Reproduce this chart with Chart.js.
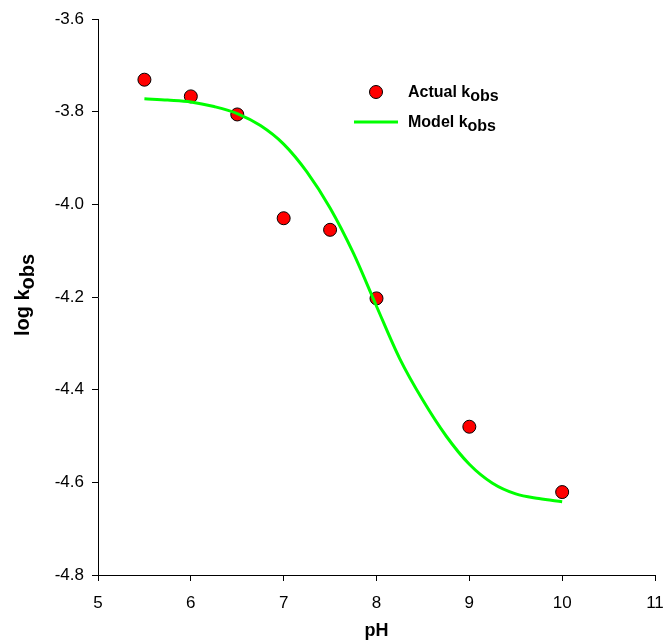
<!DOCTYPE html>
<html><head><meta charset="utf-8">
<script src="https://cdn.jsdelivr.net/npm/chart.js@4"></script>
<style>html,body{margin:0;padding:0;background:#fff}#wrap{width:665px;height:644px;position:relative}</style>
</head><body><div id="wrap"><canvas id="c" width="665" height="644"></canvas></div>
<script>
// Data
const actualPH   = [5.5, 6.0, 6.5, 7.0, 7.5, 8.0, 9.0, 10.0];
const actualLogK = [-3.731, -3.767, -3.806, -4.030, -4.055, -4.203, -4.480, -4.621];
const modelPH    = [5.5, 5.75, 6.0, 6.25, 6.5, 6.75, 7.0, 7.25, 7.5, 7.75, 8.0, 8.25, 8.5, 8.75, 9.0, 9.25, 9.5, 9.75, 10.0];
const modelLogK  = [-3.772, -3.775, -3.779, -3.789, -3.804, -3.830, -3.870, -3.930, -4.008, -4.105, -4.220, -4.333, -4.423, -4.500, -4.561, -4.602, -4.625, -4.635, -4.642];
const xTickVals  = [5, 6, 7, 8, 9, 10, 11];
const yTickVals  = [-4.8, -4.6, -4.4, -4.2, -4.0, -3.8, -3.6];
const xTitle = 'pH';
const yTitleMain = 'log k', yTitleSub = 'obs';
const legendItems = [
  {main: 'Actual k', sub: 'obs', kind: 'point'},
  {main: 'Model k', sub: 'obs', kind: 'line'}
];

const FONT = "'Liberation Sans', Arial, Helvetica, sans-serif";

const overlay = {
  id: 'overlay',
  afterDraw(chart) {
    const ctx = chart.ctx;
    const ca = chart.chartArea;
    ctx.save();
    ctx.fillStyle = '#000';
    // Y-axis title with subscript
    ctx.font = 'bold 20px ' + FONT;
    const wMain = ctx.measureText(yTitleMain).width;
    const wSub = ctx.measureText(yTitleSub).width;
    const total = wMain + wSub;
    ctx.save();
    ctx.translate(29, 295);
    ctx.rotate(-Math.PI / 2);
    ctx.textBaseline = 'alphabetic';
    ctx.textAlign = 'left';
    ctx.fillText(yTitleMain, -total / 2, 0);
    ctx.fillText(yTitleSub, -total / 2 + wMain, 5);
    ctx.restore();

    // Legend
    const rows = [92, 122];
    legendItems.forEach((it, i) => {
      const y = rows[i];
      if (it.kind === 'point') {
        ctx.beginPath();
        ctx.arc(376, y, 6.5, 0, Math.PI * 2);
        ctx.fillStyle = '#ff0000';
        ctx.fill();
        ctx.lineWidth = 1;
        ctx.strokeStyle = '#000';
        ctx.stroke();
      } else {
        ctx.beginPath();
        ctx.moveTo(354, y);
        ctx.lineTo(398, y);
        ctx.lineWidth = 3;
        ctx.strokeStyle = '#00ff00';
        ctx.stroke();
      }
      ctx.fillStyle = '#000';
      ctx.font = 'bold 16px ' + FONT;
      ctx.textBaseline = 'alphabetic';
      ctx.textAlign = 'left';
      const wm = ctx.measureText(it.main).width;
      ctx.fillText(it.main, 408, y + 5);
      ctx.fillText(it.sub, 408 + wm, y + 9);
    });
    ctx.restore();
  }
};

new Chart(document.getElementById('c'), {
  data: {
    datasets: [
      {
        type: 'line',
        label: 'Model kobs',
        data: modelPH.map((x, i) => ({x, y: modelLogK[i]})),
        borderColor: '#00ff00',
        borderWidth: 3,
        pointRadius: 0,
        tension: 0.4,
        cubicInterpolationMode: 'monotone',
        fill: false,
        order: 0
      },
      {
        type: 'scatter',
        label: 'Actual kobs',
        data: actualPH.map((x, i) => ({x, y: actualLogK[i]})),
        backgroundColor: '#ff0000',
        borderColor: '#000',
        borderWidth: 1,
        pointRadius: 6.5,
        pointHoverRadius: 6.5,
        order: 1
      }
    ]
  },
  options: {
    responsive: false,
    animation: false,
    devicePixelRatio: 1,
    layout: {padding: {left: 0, right: 10, top: 19, bottom: 0}},
    plugins: {legend: {display: false}, tooltip: {enabled: false}},
    scales: {
      x: {
        type: 'linear',
        min: 5, max: 11,
        afterBuildTicks: s => { s.ticks = xTickVals.map(v => ({value: v})); },
        afterFit: s => { s.height = 69; s.paddingRight = 0; s.paddingLeft = 0; },
        grid: {drawOnChartArea: false, tickLength: 6, color: '#000', tickColor: '#000'},
        border: {color: '#000', width: 1},
        ticks: {color: '#000', font: {family: FONT, size: 17}, padding: 12, maxRotation: 0},
        title: {display: true, text: xTitle, color: '#000', font: {family: FONT, size: 18, weight: 'bold'}, padding: {top: 0, bottom: 2}}
      },
      y: {
        type: 'linear',
        min: -4.8, max: -3.6,
        afterBuildTicks: s => { s.ticks = yTickVals.map(v => ({value: v})); },
        afterFit: s => { s.width = 98; s.paddingTop = 0; s.paddingBottom = 0; },
        grid: {drawOnChartArea: false, tickLength: 6, color: '#000', tickColor: '#000'},
        border: {color: '#000', width: 1},
        ticks: {color: '#000', font: {family: FONT, size: 17}, padding: 8, callback: v => Number(v).toFixed(1)}
      }
    }
  },
  plugins: [overlay]
});
</script>
</body></html>
